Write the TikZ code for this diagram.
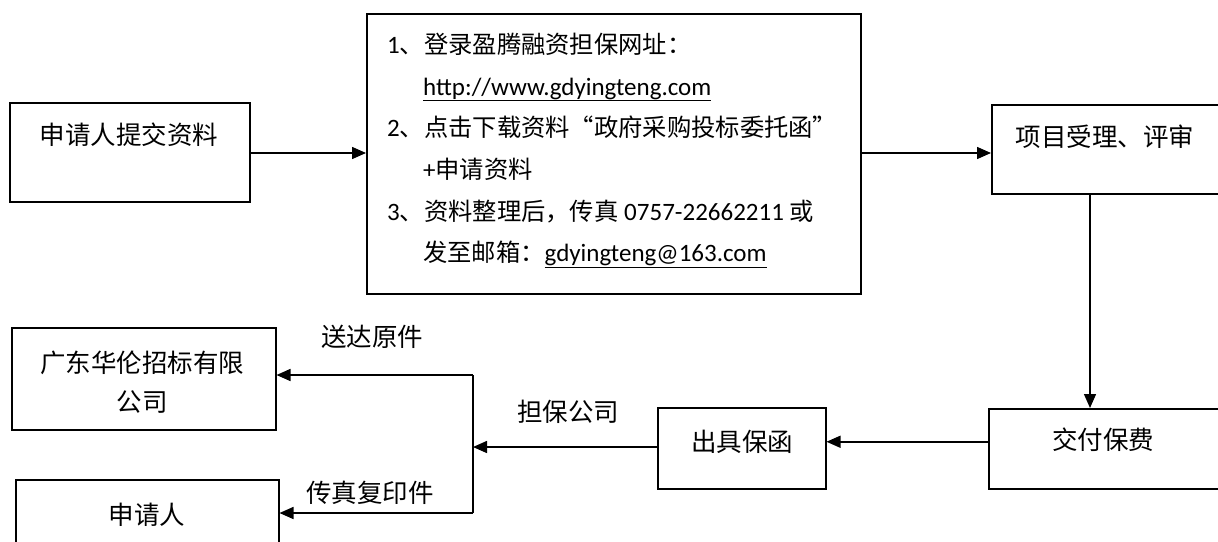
\documentclass[tikz,border=0pt]{standalone}
\usepackage{fontspec}
\setmainfont{Carlito}
\newfontfamily\cjk{Noto Sans CJK SC}
\usetikzlibrary{arrows.meta}
\newcommand\zhb{\cjk\fontsize{24.3}{28}\selectfont}
\newcommand\zhlq{\makebox[1em][r]{“}}
\newcommand\zhrq{\makebox[1em][l]{”}}
\begin{document}
\begin{tikzpicture}[x=1pt,y=-1pt,
  box/.style={draw, line width=1.5pt, inner sep=0pt, anchor=north west},
  arr/.style={line width=1.5pt, -{Triangle[length=14pt,width=12pt]}},
  ln/.style={line width=1.5pt},
  zh/.style={font=\cjk\fontsize{25.5}{39}\selectfont, inner sep=0pt, align=center},
  bt/.style={font=\fontsize{25}{30}\selectfont, inner sep=0pt, anchor=base west}]
\useasboundingbox (0,0) rectangle (1218,541);
\clip (0,0) rectangle (1218,541);
% boxes
\node[box, minimum width=240pt, minimum height=99pt] (A) at (9,102) {};
\node[box, minimum width=494pt, minimum height=280pt] (B) at (366,13) {};
\node[box, minimum width=260pt, minimum height=89pt] (C) at (991,104) {};
\node[box, minimum width=260pt, minimum height=80pt] (D) at (988,408) {};
\node[box, minimum width=168pt, minimum height=81pt] (E) at (657,407) {};
\node[box, minimum width=264pt, minimum height=102pt] (F) at (11,327) {};
\node[box, minimum width=263pt, minimum height=100pt] (G) at (15,479) {};
% box texts
\node[zh] (At) at (129,135) {申请人提交资料};
\node[zh] (Ct) at (1105,137) {项目受理、评审};
\node[zh] (Dt) at (1103,440) {交付保费};
\node[zh] (Et) at (742,442) {出具保函};
\node[zh] (Ft) at (142,382) {广东华伦招标有限\\公司};
\node[zh] (Gt) at (147,515) {申请人};
% box B text
\node[bt] (b1) at (387,53) {1{\zhb 、登录盈腾融资担保网址：}};
\node[bt] (b2) at (423,95) {\underline{http://www.gdyingteng.com}};
\node[bt] (b3) at (387,136) {2{\zhb 、点击下载资料\zhlq 政府采购投标委托函\zhrq}};
\node[bt] (b4) at (423,178) {+{\zhb 申请资料}};
\node[bt] (b5) at (387,220) {3{\zhb 、资料整理后，传真} 0757-22662211 {\zhb 或}};
\node[bt] (b6) at (423,261) {{\zhb 发至邮箱：}\underline{gdyingteng@163.com}};
% labels
\node[zh] (l1) at (372,337) {送达原件};
\node[zh] (l2) at (568,412) {担保公司};
\node[zh] (l3) at (370,493) {传真复印件};
% connectors
\coordinate (cd) at (1090,193);
\coordinate (jt) at (473,375);
\coordinate (jm) at (473,447);
\coordinate (jb) at (473,513);
\draw[arr] (A.east |- 0,153) -- (B.west |- 0,153);
\draw[arr] (B.east |- 0,153) -- (C.west |- 0,153);
\draw[arr] (cd) -- (cd |- D.north);
\draw[arr] ([yshift=7pt]D.west) -- ([yshift=7pt]D.west -| E.east);
\draw[arr] (E.west |- jm) -- (jm);
\draw[ln] (jt) -- (jb);
\draw[arr] (jt) -- (jt -| F.east);
\draw[arr] (jb) -- (jb -| G.east);
\end{tikzpicture}
\end{document}
